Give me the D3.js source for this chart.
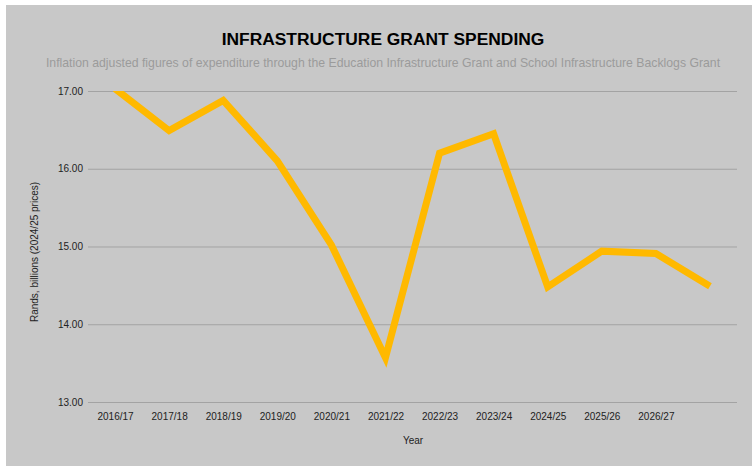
<!DOCTYPE html>
<html>
<head>
<meta charset="utf-8">
<script src="https://cdn.jsdelivr.net/npm/d3@7"></script>
<style>
  html, body { margin: 0; padding: 0; background: #ffffff; }
  svg { display: block; font-family: "Liberation Sans", Arial, sans-serif; }
</style>
</head>
<body>
<svg id="chart" width="753" height="467"></svg>
<script>
// Financial years (the last one is plotted but not labelled on the axis)
const years = ["2016/17", "2017/18", "2018/19", "2019/20", "2020/21", "2021/22",
               "2022/23", "2023/24", "2024/25", "2025/26", "2026/27", "2027/28"];
const xTickLabels = ["2016/17", "2017/18", "2018/19", "2019/20", "2020/21", "2021/22",
                     "2022/23", "2023/24", "2024/25", "2025/26", "2026/27", ""];
// Rands, billions, 2024/25 prices
const spending = [17.03, 16.49, 16.88, 16.10, 15.02, 13.57,
                  16.20, 16.45, 14.48, 14.94, 14.91, 14.49];
const yTicks = [13, 14, 15, 16, 17];

const svg = d3.select("#chart");
const W = 753, H = 467;
const plot = { left: 88, right: 737, top: 91, bottom: 402 };

// panel background
svg.append("rect")
  .attr("x", 6).attr("y", 5)
  .attr("width", W - 7).attr("height", H - 6)
  .attr("fill", "#c8c8c8");

const x = d3.scalePoint().domain(years).range([plot.left, plot.right]).padding(0.5);
const y = d3.scaleLinear().domain([13, 17]).range([plot.bottom, plot.top]);

// title & subtitle
svg.append("text")
  .attr("x", 383).attr("y", 45)
  .attr("text-anchor", "middle")
  .attr("font-size", 17.4).attr("font-weight", "bold")
  .attr("fill", "#000")
  .text("INFRASTRUCTURE GRANT SPENDING");

svg.append("text")
  .attr("x", 383).attr("y", 66.5)
  .attr("text-anchor", "middle")
  .attr("font-size", 12.25)
  .attr("fill", "#9b9b9b")
  .text("Inflation adjusted figures of expenditure through the Education Infrastructure Grant and School Infrastructure Backlogs Grant");

// y axis with gridlines
const yAxis = d3.axisLeft(y)
  .tickValues(yTicks)
  .tickFormat(d3.format(".2f"))
  .tickSize(-(plot.right - plot.left))
  .tickPadding(5);

const gy = svg.append("g")
  .attr("transform", `translate(${plot.left},0)`)
  .call(yAxis);
gy.select(".domain").remove();
gy.selectAll(".tick line").attr("stroke", "#a3a3a3").attr("stroke-width", 1);
gy.selectAll(".tick text")
  .attr("font-size", 10).attr("fill", "#222")
  .attr("font-family", "Liberation Sans, Arial, sans-serif");

// x axis labels
const labelOf = new Map(years.map((yr, i) => [yr, xTickLabels[i]]));
const xAxis = d3.axisBottom(x)
  .tickSize(0)
  .tickPadding(11)
  .tickFormat(d => labelOf.get(d));
const gx = svg.append("g")
  .attr("transform", `translate(0,${plot.bottom})`)
  .call(xAxis);
gx.select(".domain").remove();
gx.selectAll(".tick text")
  .attr("font-size", 10).attr("fill", "#222")
  .attr("font-family", "Liberation Sans, Arial, sans-serif");

// axis titles
svg.append("text")
  .attr("x", 413).attr("y", 444)
  .attr("text-anchor", "middle")
  .attr("font-size", 10).attr("fill", "#222")
  .text("Year");

svg.append("text")
  .attr("transform", "translate(38,252) rotate(-90)")
  .attr("text-anchor", "middle")
  .attr("font-size", 10).attr("fill", "#222")
  .text("Rands, billions (2024/25 prices)");

// clip the series to the plotting area
svg.append("clipPath").attr("id", "plot-clip")
  .append("rect")
  .attr("x", plot.left).attr("y", plot.top)
  .attr("width", plot.right - plot.left)
  .attr("height", plot.bottom - plot.top);

const line = d3.line()
  .x((d, i) => x(years[i]))
  .y(d => y(d));

svg.append("path")
  .datum(spending)
  .attr("clip-path", "url(#plot-clip)")
  .attr("fill", "none")
  .attr("stroke", "#ffb900")
  .attr("stroke-width", 7)
  .attr("stroke-linejoin", "miter")
  .attr("stroke-miterlimit", 10)
  .attr("d", line);
</script>
</body>
</html>
